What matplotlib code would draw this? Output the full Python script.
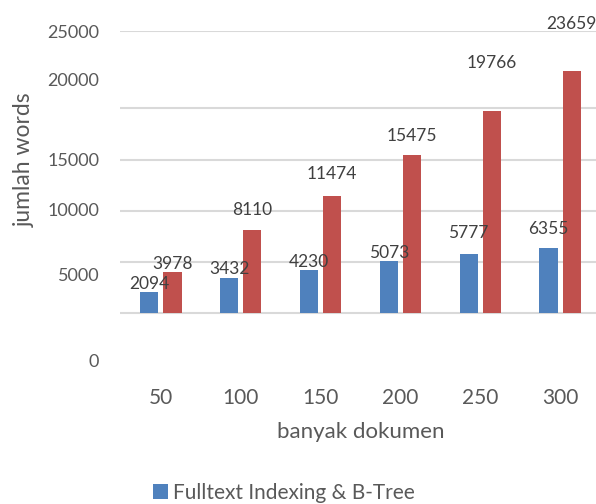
import numpy as np
import matplotlib.pyplot as plt

plt.rcParams['font.family'] = ['Lato', 'DejaVu Sans']

# data
categories = ['50', '100', '150', '200', '250', '300']
fulltext_btree = [2094, 3432, 4230, 5073, 5777, 6355]
other_series = [3978, 8110, 11474, 15475, 19766, 23659]
series_label = 'Fulltext Indexing & B-Tree'

# y-axis labels as they sit in the source image (shifted from the gridlines)
ytick_text = ['0', '5000', '10000', '15000', '20000', '25000']
ytick_pos = [-4600, 3725, 10100, 15000, 22840, 27550]
grid_vals = [0, 5000, 10000, 15000, 20000]

# label offsets above bars, in points (as in source)
blue_off = [0, 1, 0, 0, 9, 8]
red_off = [0, 9, 10, 8, 29, 28]

BLUE = '#4F81BD'
RED = '#C0504D'
TXT = '#595959'

W, H = 596, 504
fig = plt.figure(figsize=(W / 100, H / 100), dpi=100)
ax = fig.add_axes([120 / W, (H - 370) / H, 481 / W, (370 - 31) / H])

x = np.arange(len(categories))
bw = 0.23
off = 0.145
ax.bar(x - off, fulltext_btree, bw, color=BLUE, label=series_label, zorder=3)
ax.bar(x + off, other_series, bw, color=RED, zorder=3)

ylo = -(370 - 313) / 0.01023
yhi = (313 - 31) / 0.01023
ax.set_ylim(ylo, yhi)
ax.set_xlim(-0.51, len(categories) - 0.49)

for g in grid_vals + [yhi]:
    ax.axhline(g, color='#D9D9D9', lw=1.5, zorder=1)

for xi, v, o in zip(x, fulltext_btree, blue_off):
    ax.annotate(str(v), (xi - off, v), xytext=(0, o), textcoords='offset points',
                ha='center', va='bottom', fontsize=12.5, color='#404040', zorder=4)
for xi, v, o in zip(x, other_series, red_off):
    ax.annotate(str(v), (xi + off, v), xytext=(0, o), textcoords='offset points',
                ha='center', va='bottom', fontsize=12.5, color='#404040', zorder=4)

ax.set_yticks(ytick_pos)
ax.set_yticklabels(ytick_text)
ax.set_xticks(x)
ax.set_xticklabels(categories)
ax.tick_params(axis='y', length=0, pad=15, labelsize=13, labelcolor=TXT)
ax.tick_params(axis='x', length=0, pad=13, labelsize=15, labelcolor=TXT)
for s in ax.spines.values():
    s.set_visible(False)

ax.set_xlabel('banyak dokumen', fontsize=16, color=TXT, labelpad=10)
fig.text(24 / W, 1 - 160 / H, 'jumlah words', rotation=90, ha='center', va='center',
         fontsize=16.5, color=TXT)

h, l = ax.get_legend_handles_labels()
fig.legend(h, l, loc='upper left', bbox_to_anchor=(138 / W, 1 - 468 / H),
           frameon=False, fontsize=15, labelcolor=TXT, handlelength=0.75,
           handleheight=0.75, handletextpad=0.25, borderpad=0.2)

plt.savefig('out.png', dpi=100)
